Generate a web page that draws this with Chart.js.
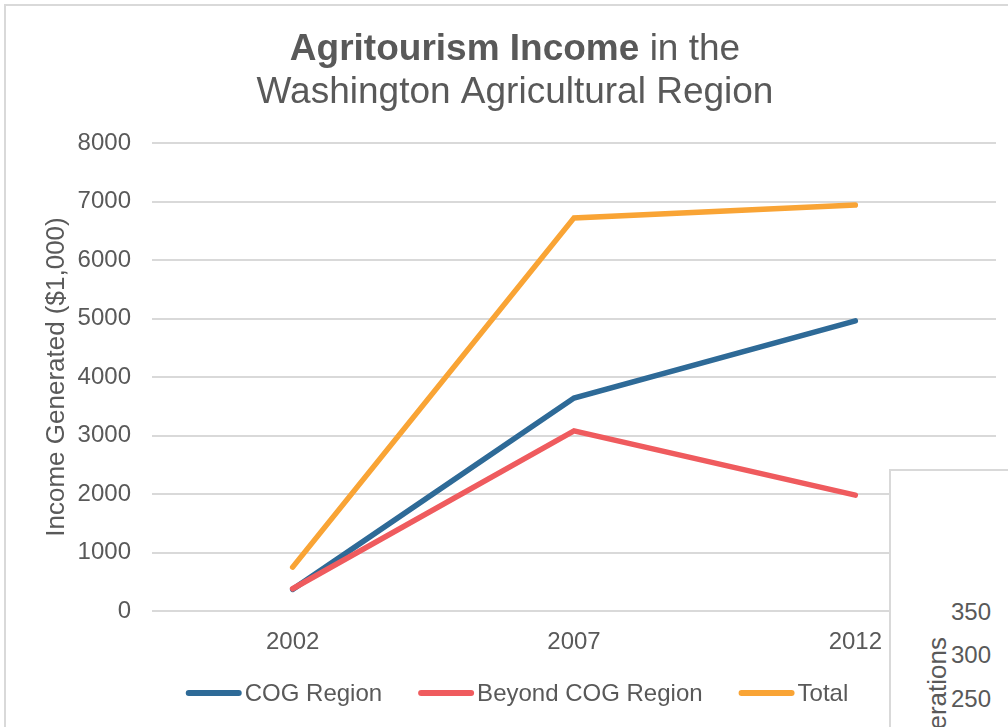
<!DOCTYPE html>
<html lang="en">
<head>
  <meta charset="UTF-8">
  <title>Agritourism Income</title>
  <script src="https://cdn.jsdelivr.net/npm/chart.js"></script>
  <style>
    body {
      margin: 0;
      background: #ffffff;
      font-family: 'Liberation Sans', Arial, sans-serif;
      overflow: hidden;
    }
    .wrap {
      position: relative;
      width: 1008px;
      height: 727px;
      overflow: hidden;
    }
    /* outer chart frame, runs off the page right and bottom */
    .frame {
      position: absolute;
      left: 4px;
      top: 4px;
      width: 1100px;
      height: 800px;
      border: 2px solid #d9d9d9;
    }
    canvas {
      position: absolute;
      left: 0;
      top: 0;
    }
    /* piece of a second chart overlapping the corner */
    .inset {
      position: absolute;
      left: 889px;
      top: 469px;
      width: 200px;
      height: 300px;
      background: #ffffff;
      border: 2px solid #d9d9d9;
      color: #595959;
    }
    .inset .tick {
      position: absolute;
      right: 100px;
      font-size: 24px;
      line-height: 24px;
    }
    .inset .ytitle {
      position: absolute;
      left: 31px;
      top: 166px;
      font-size: 26px;
      line-height: 30px;
      white-space: nowrap;
      transform-origin: 0 0;
      transform: rotate(-90deg) translateX(-100%);
    }
  </style>
</head>
<body>
  <div class="wrap">
    <div class="frame"></div>
    <canvas id="incomeChart" width="1008" height="727"></canvas>
    <div class="inset">
      <div class="tick" style="top:129px">350</div>
      <div class="tick" style="top:172px">300</div>
      <div class="tick" style="top:216px">250</div>
      <div class="ytitle">Number of Operations</div>
    </div>
  </div>

  <script>
    const years = ['2002', '2007', '2012'];
    const cogRegion = [370, 3640, 4960];
    const beyondCog = [380, 3080, 1980];
    const total = [750, 6720, 6940];

    const textColor = '#595959';
    const fontFamily = "'Liberation Sans', Arial, sans-serif";

    // title with a bold first part, drawn by hand
    const titlePlugin = {
      id: 'mixedTitle',
      afterDraw(chart) {
        const ctx = chart.ctx;
        const cx = 515;
        ctx.save();
        ctx.fillStyle = textColor;
        ctx.textBaseline = 'alphabetic';
        ctx.font = 'bold 37px ' + fontFamily;
        const boldTxt = 'Agritourism Income';
        const wBold = ctx.measureText(boldTxt).width;
        ctx.font = '37px ' + fontFamily;
        const restTxt = ' in the';
        const wRest = ctx.measureText(restTxt).width;
        let x = cx - (wBold + wRest) / 2;
        ctx.textAlign = 'left';
        ctx.font = 'bold 37px ' + fontFamily;
        ctx.fillText(boldTxt, x, 60);
        ctx.font = '37px ' + fontFamily;
        ctx.fillText(restTxt, x + wBold, 60);
        ctx.textAlign = 'center';
        ctx.fillText('Washington Agricultural Region', cx, 103);
        ctx.restore();
      }
    };

    // legend with line swatches sitting close to their text
    const legendPlugin = {
      id: 'lineLegend',
      afterDraw(chart) {
        const ctx = chart.ctx;
        const y = 693;
        const lineLen = 50, gapText = 3, gapItem = 36;
        ctx.save();
        ctx.font = '24px ' + fontFamily;
        const items = chart.data.datasets.map(d => ({
          label: d.label, color: d.borderColor, w: ctx.measureText(d.label).width
        }));
        let totalW = 0;
        items.forEach((it, i) => {
          totalW += 6 + lineLen + gapText + it.w + (i < items.length - 1 ? gapItem : 0);
        });
        let x = 517 - totalW / 2;
        items.forEach(it => {
          ctx.strokeStyle = it.color;
          ctx.lineWidth = 6;
          ctx.lineCap = 'round';
          ctx.beginPath();
          ctx.moveTo(x + 3, y);
          ctx.lineTo(x + 3 + lineLen, y);
          ctx.stroke();
          x += 6 + lineLen + gapText;
          ctx.fillStyle = textColor;
          ctx.textAlign = 'left';
          ctx.textBaseline = 'middle';
          ctx.fillText(it.label, x, y + 1);
          x += it.w + gapItem;
        });
        ctx.restore();
      }
    };

    new Chart(document.getElementById('incomeChart'), {
      type: 'line',
      data: {
        labels: years,
        datasets: [
          { label: 'COG Region', data: cogRegion, borderColor: '#2e6a97', order: 3 },
          { label: 'Beyond COG Region', data: beyondCog, borderColor: '#ef5b5e', order: 2 },
          { label: 'Total', data: total, borderColor: '#f9a435', order: 1 }
        ]
      },
      options: {
        responsive: false,
        animation: false,
        devicePixelRatio: 1,
        layout: {
          padding: { top: 143, right: 12, bottom: 50, left: 0 }
        },
        elements: {
          line: { borderWidth: 5.5, borderCapStyle: 'round', borderJoinStyle: 'miter', tension: 0 },
          point: { radius: 0, hoverRadius: 0 }
        },
        plugins: {
          legend: { display: false },
          title: { display: false },
          tooltip: { enabled: false }
        },
        scales: {
          x: {
            offset: true,
            grid: { display: false },
            border: { display: false },
            ticks: {
              color: textColor,
              font: { family: fontFamily, size: 24 },
              padding: 9
            },
            afterFit(scale) { scale.height = 66; }
          },
          y: {
            min: 0,
            max: 8000,
            grid: { color: '#d9d9d9', lineWidth: 2, drawTicks: false },
            border: { display: false },
            ticks: {
              stepSize: 1000,
              color: textColor,
              font: { family: fontFamily, size: 24 },
              padding: 21,
              callback: v => String(v)
            },
            title: {
              display: true,
              text: 'Income Generated ($1,000)',
              color: textColor,
              font: { family: fontFamily, size: 26 },
              padding: { top: 41, bottom: 0 }
            },
            afterFit(scale) { scale.width = 152; }
          }
        }
      },
      plugins: [titlePlugin, legendPlugin]
    });
  </script>
</body>
</html>
